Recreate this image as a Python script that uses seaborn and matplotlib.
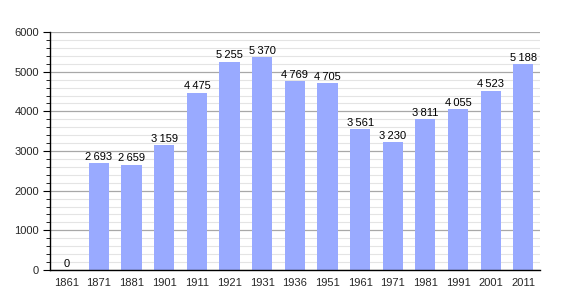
import matplotlib
matplotlib.use("Agg")
import matplotlib.pyplot as plt
import seaborn as sns
import pandas as pd
from matplotlib.ticker import MultipleLocator

years = ["1861", "1871", "1881", "1901", "1911", "1921", "1931", "1936",
         "1951", "1961", "1971", "1981", "1991", "2001", "2011"]
population = [0, 2693, 2659, 3159, 4475, 5255, 5370, 4769,
              4705, 3561, 3230, 3811, 4055, 4523, 5188]

df = pd.DataFrame({"year": years, "pop": population})

sns.set_style("white")
plt.rcParams['font.family'] = ['Liberation Sans', 'DejaVu Sans']

fig = plt.figure(figsize=(5.7, 3.0), dpi=100)
ax = fig.add_axes([0.0877, 0.1, 0.859, 0.793])

ax.yaxis.set_major_locator(MultipleLocator(1000))
ax.yaxis.set_minor_locator(MultipleLocator(200))
ax.grid(which="minor", axis="y", color="#e4e4e4", linewidth=0.8)
ax.grid(which="major", axis="y", color="#a8a8a8", linewidth=0.9)
ax.set_axisbelow(True)

sns.barplot(data=df, x="year", y="pop", color="#99aaff", saturation=1,
            width=0.62, ax=ax, edgecolor="none")

for i, v in enumerate(population):
    s = f"{v:,}".replace(",", "\u2009")
    ax.text(i, v + 30, s, ha="center", va="bottom", fontsize=8, color="black")

ax.set_ylim(0, 6000)
ax.set_xlim(-0.5, 14.5)
ax.set_xlabel("")
ax.set_ylabel("")
for sp in ["top", "right"]:
    ax.spines[sp].set_visible(False)
ax.spines["left"].set_color("black")
ax.spines["bottom"].set_color("black")
ax.spines["left"].set_linewidth(1)
ax.spines["bottom"].set_linewidth(1)
ax.tick_params(axis="y", which="major", left=True, length=5, width=0.8, labelsize=8, pad=3, color="black")
ax.tick_params(axis="y", which="minor", left=True, length=3, width=0.6, color="black")
ax.tick_params(axis="x", bottom=False, labelsize=8, pad=2)

fig.savefig("out.png", dpi=100)
